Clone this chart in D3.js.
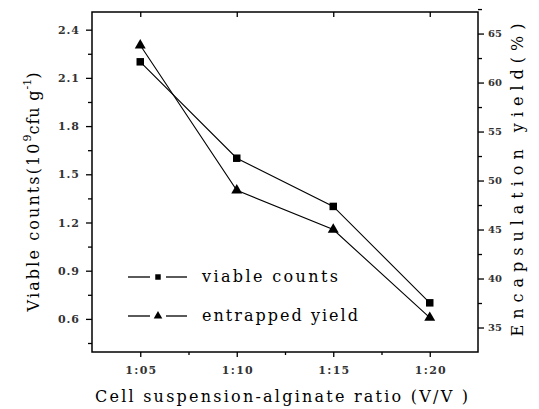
<!DOCTYPE html>
<html><head><meta charset="utf-8">
<script src="https://cdn.jsdelivr.net/npm/d3@7"></script>
<style>body{margin:0;background:#fff}svg{display:block}</style>
</head><body>
<svg id="c" width="539" height="409"></svg>
<script>
const categories = ["1:05","1:10","1:15","1:20"];
const viableCounts = [2.2, 1.6, 1.3, 0.7];
const entrappedYield = [63.8, 49.0, 45.0, 36.0];
const leftTicks = [0.6, 0.9, 1.2, 1.5, 1.8, 2.1, 2.4];
const rightTicks = [35, 40, 45, 50, 55, 60, 65];
const seriesNames = ["viable counts", "entrapped yield"];

const FONT = '"DejaVu Serif", "Liberation Serif", serif';
const svg = d3.select("#c");
const L = 92, R = 478, T = 12, B = 352;
const x = d3.scaleLinear().domain([-0.5, 3.5]).range([L, R]);
const yL = d3.scaleLinear().domain([0.394, 2.51]).range([B, T]);
const yR = d3.scaleLinear().domain([32.5, 67.2]).range([B, T]);

// frame
svg.append("rect").attr("x", L).attr("y", T).attr("width", R - L).attr("height", B - T)
  .attr("fill", "none").attr("stroke", "#000").attr("stroke-width", 1.5);

const idx = categories.map((d, i) => i);
const fmt = d3.format(".1f");

// bottom axis
const gB = svg.append("g").attr("transform", `translate(0,${B})`);
gB.call(d3.axisBottom(x).tickValues(idx).tickFormat(i => categories[i]).tickSize(5).tickPadding(9));
gB.append("g").call(d3.axisBottom(x).tickValues([0.5, 1.5, 2.5]).tickFormat("").tickSize(3));
gB.selectAll(".tick text").attr("textLength", 31).attr("lengthAdjust", "spacing");
// top axis ticks (inside)
const gT = svg.append("g").attr("transform", `translate(0,${T})`);
gT.call(d3.axisBottom(x).tickValues(idx).tickFormat("").tickSize(5));
// left axis
const gL = svg.append("g").attr("transform", `translate(${L},0)`);
gL.call(d3.axisLeft(yL).tickValues(leftTicks).tickFormat(fmt).tickSize(6).tickPadding(7));
gL.append("g").call(d3.axisLeft(yL).tickValues(leftTicks.map(v => v - 0.15)).tickFormat("").tickSize(4));
gL.selectAll(".tick text").attr("textLength", 21).attr("lengthAdjust", "spacing");
// right axis
const gR = svg.append("g").attr("transform", `translate(${R},0)`);
gR.call(d3.axisRight(yR).tickValues(rightTicks).tickFormat(d3.format("d")).tickSize(6).tickPadding(4));
gR.append("g").call(d3.axisRight(yR).tickValues(rightTicks.map(v => v + 2.5)).tickFormat("").tickSize(4));

svg.selectAll(".domain").remove();
svg.selectAll(".tick line").attr("stroke", "#000").attr("stroke-width", 1.3);
svg.selectAll(".tick text").style("font-family", FONT).style("font-size", "11px").style("font-weight", "bold").attr("fill", "#333");
gR.selectAll(".tick text").style("font-size", "10px");

// lines
const lineL = d3.line().x((d, i) => x(i)).y(d => yL(d));
const lineR = d3.line().x((d, i) => x(i)).y(d => yR(d));
svg.append("path").attr("d", lineL(viableCounts)).attr("fill", "none").attr("stroke", "#000").attr("stroke-width", 1.1);
svg.append("path").attr("d", lineR(entrappedYield)).attr("fill", "none").attr("stroke", "#000").attr("stroke-width", 1.1);

const sq = d3.symbol().type(d3.symbolSquare).size(56);
const tri = d3.symbol().type(d3.symbolTriangle).size(52);
svg.selectAll(".sq").data(viableCounts).join("path")
  .attr("d", sq).attr("transform", (d, i) => `translate(${x(i)},${yL(d)})`).attr("fill", "#000");
svg.selectAll(".tri").data(entrappedYield).join("path")
  .attr("d", tri).attr("transform", (d, i) => `translate(${x(i)},${yR(d)})`).attr("fill", "#000");

// legend
const legY = [277, 316];
const legW = [136, 156];
const legSym = [d3.symbol().type(d3.symbolSquare).size(30), d3.symbol().type(d3.symbolTriangle).size(32)];
seriesNames.forEach((name, k) => {
  const g = svg.append("g").attr("transform", `translate(0,${legY[k]})`);
  g.append("line").attr("x1", 128).attr("x2", 150).attr("y1", 0).attr("y2", 0).attr("stroke", "#000").attr("stroke-width", 1.3);
  g.append("line").attr("x1", 166).attr("x2", 187).attr("y1", 0).attr("y2", 0).attr("stroke", "#000").attr("stroke-width", 1.3);
  g.append("path").attr("d", legSym[k]).attr("transform", "translate(158,0)").attr("fill", "#000");
  g.append("text").attr("x", 202).attr("y", 5).style("font-family", FONT).style("font-size", "16px")
    .attr("textLength", legW[k]).attr("lengthAdjust", "spacing").text(name);
});

// axis titles
svg.append("text").attr("x", 95).attr("y", 402).style("font-family", FONT).style("font-size", "16px")
  .attr("textLength", 373).attr("lengthAdjust", "spacing")
  .text("Cell suspension-alginate ratio (V/V )");

const lt = svg.append("text").attr("transform", `translate(39,192) rotate(-90)`).attr("text-anchor", "middle")
  .style("font-family", FONT).style("font-size", "16px");
lt.append("tspan").attr("textLength", 168).attr("lengthAdjust", "spacing").text("Viable counts(10");
lt.append("tspan").attr("dy", -8).style("font-size", "11px").text("9");
lt.append("tspan").attr("dy", 8).attr("textLength", 44).attr("lengthAdjust", "spacing").text("cfu g");
lt.append("tspan").attr("dy", -8).style("font-size", "11px").text("-1");
lt.append("tspan").attr("dy", 8).text(")");

svg.append("text").attr("transform", `translate(523,180) rotate(-90)`).attr("text-anchor", "middle")
  .style("font-family", FONT).style("font-size", "16px")
  .attr("textLength", 313).attr("lengthAdjust", "spacing")
  .text("Encapsulation yield(%)");
</script>
</body></html>
